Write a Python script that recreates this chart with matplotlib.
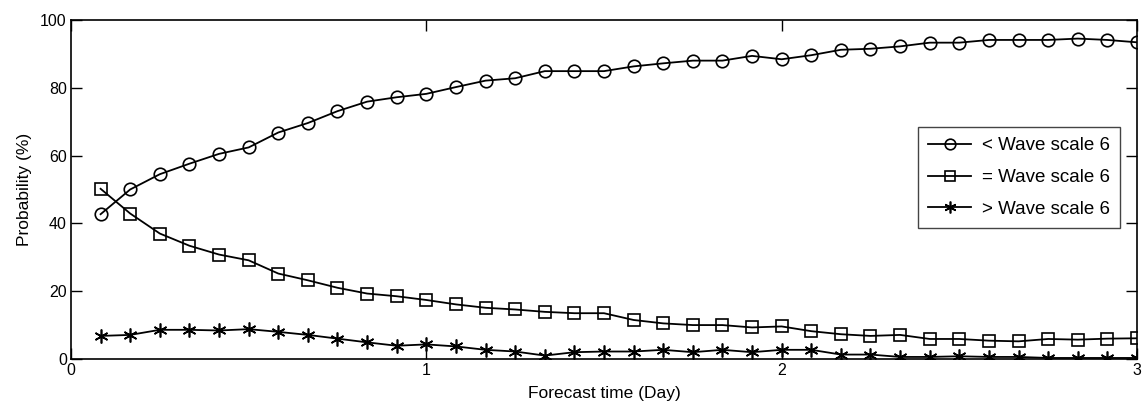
import numpy as np
import matplotlib
matplotlib.use('Agg')
import matplotlib.pyplot as plt

plt.rcParams['font.family'] = ['Liberation Sans', 'DejaVu Sans']

# forecast times: every 2 hours over 3 days
forecast_day = np.arange(1, 37) / 12.0

below_scale6 = [42.7, 50.0, 54.5, 57.6, 60.5, 62.4, 66.8, 69.6, 73.1, 75.9, 77.2, 78.2,
                80.2, 82.1, 82.8, 84.9, 84.9, 84.9, 86.3, 87.2, 88.0, 88.0, 89.4, 88.4,
                89.6, 91.2, 91.5, 92.2, 93.3, 93.3, 94.1, 94.1, 94.1, 94.5, 94.1, 93.4]
equal_scale6 = [50.2, 42.9, 37.0, 33.4, 30.8, 29.1, 25.2, 23.2, 21.0, 19.3, 18.5, 17.4,
                16.1, 15.1, 14.6, 13.9, 13.5, 13.5, 11.5, 10.5, 10.0, 10.0, 9.3, 9.6,
                8.2, 7.3, 6.8, 7.1, 5.9, 5.9, 5.4, 5.2, 5.9, 5.7, 6.0, 6.1]
above_scale6 = [6.8, 7.1, 8.6, 8.6, 8.4, 8.8, 8.0, 7.1, 6.0, 4.9, 3.9, 4.3,
                3.7, 2.7, 2.2, 1.0, 2.0, 2.2, 2.2, 2.7, 2.0, 2.7, 2.0, 2.7,
                2.7, 1.3, 1.3, 0.6, 0.6, 0.8, 0.6, 0.6, 0.3, 0.3, 0.3, 0.3]
legend_labels = ['< Wave scale 6', '= Wave scale 6', '> Wave scale 6']

fig = plt.figure(figsize=(11.45, 4.07), dpi=100)
ax = fig.add_axes([0.062, 0.118, 0.931, 0.833])

kw = dict(color='black', lw=1.3, mfc='none', mec='black', mew=1.2)
ax.plot(forecast_day, below_scale6, marker='o', ms=9, label=legend_labels[0], **kw)
ax.plot(forecast_day, equal_scale6, marker='s', ms=8, label=legend_labels[1], **kw)
ax.plot(forecast_day, above_scale6, marker=(6, 2, 0), ms=10, label=legend_labels[2], **kw)

ax.set_xlim(0, 3)
ax.set_ylim(0, 100)
ax.set_xticks([0, 1, 2, 3])
ax.set_yticks([0, 20, 40, 60, 80, 100])
ax.tick_params(direction='in', length=8, width=1, top=True, right=True,
               labelsize=11.5, pad=3)
for s in ax.spines.values():
    s.set_linewidth(1.2)

ax.set_xlabel('Forecast time (Day)', fontsize=12.5, labelpad=6)
ax.set_ylabel('Probability (%)', fontsize=12.5, labelpad=6)

leg = ax.legend(loc='upper left', bbox_to_anchor=(918 / 1145, 1 - 127 / 407),
                bbox_transform=fig.transFigure, fontsize=13.5, markerscale=0.85,
                frameon=True, fancybox=False, edgecolor='#444444', framealpha=1,
                handlelength=2.3, borderpad=0.55, labelspacing=0.78, handletextpad=0.55,
                borderaxespad=0)
leg.get_frame().set_linewidth(1.0)

fig.savefig('out.png', dpi=100)
